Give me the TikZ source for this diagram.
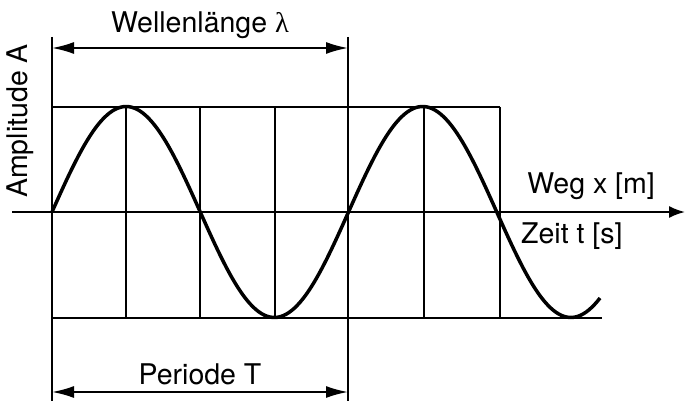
\documentclass[tikz,border=0pt]{standalone}
\usepackage{fontspec}
\setmainfont{TeX Gyre Heros}
\newfontfamily\grfont{Liberation Serif}
\usetikzlibrary{arrows.meta}
\tikzset{
  grid/.style={line width=1.9pt},
  wave/.style={line width=3.5pt},
  dim/.style={line width=1.9pt,{Latex[length=22pt,width=12pt]}-{Latex[length=22pt,width=12pt]}},
  lbl/.style={font=\fontsize{28.5}{32}\selectfont,inner sep=0pt}
}
\begin{document}
\begin{tikzpicture}[x=1pt,y=-1pt]
\useasboundingbox (0,0) rectangle (685,401);
% grid coordinates
\coordinate (L0) at (52,37);
\coordinate (L1) at (52,401);
\coordinate (R0) at (348,37);
\coordinate (R1) at (348,401);
\coordinate (T0) at (52,107);
\coordinate (T1) at (500,107);
\coordinate (B0) at (52,318);
\coordinate (B1) at (602,318);
\coordinate (A0) at (12,212);
\coordinate (A1) at (685,212);
% frame lines
\draw[grid] (L0) -- (L1);
\draw[grid] (R0) -- (R1);
\draw[grid] (T0) -- (T1);
\draw[grid] (B0) -- (B1);
\foreach \x [count=\i] in {126,200,275,424,500}{
  \coordinate (g\i a) at (\x,107);
  \coordinate (g\i b) at (\x,318);
  \draw[grid] (g\i a) -- (g\i b);
}
% axis
\draw[grid,-{Latex[length=16pt,width=12pt]}] (A0) -- (A1);
% wave
\draw[wave,smooth] plot[domain=52:600,samples=200] (\x,{212-105.5*sin(((\x-52)/296.5)*360)});
% dimension arrows
\coordinate (W0) at (52,48);
\coordinate (W1) at (348,48);
\draw[dim] (W0) -- (W1);
\coordinate (P0) at (52,392);
\coordinate (P1) at (348,392);
\draw[dim] (P0) -- (P1);
% labels
\node[lbl] (wl) at (200,25) {Wellenlänge {\grfont λ}};
\node[lbl] (pt) at (200,374) {Periode T};
\node[lbl,anchor=east] (weg) at (655,186) {Weg x [m]};
\node[lbl,anchor=west] (zeit) at (521,236) {Zeit t [s]};
\node[lbl,rotate=90] (amp) at (20,121) {Amplitude A};
\end{tikzpicture}
\end{document}
